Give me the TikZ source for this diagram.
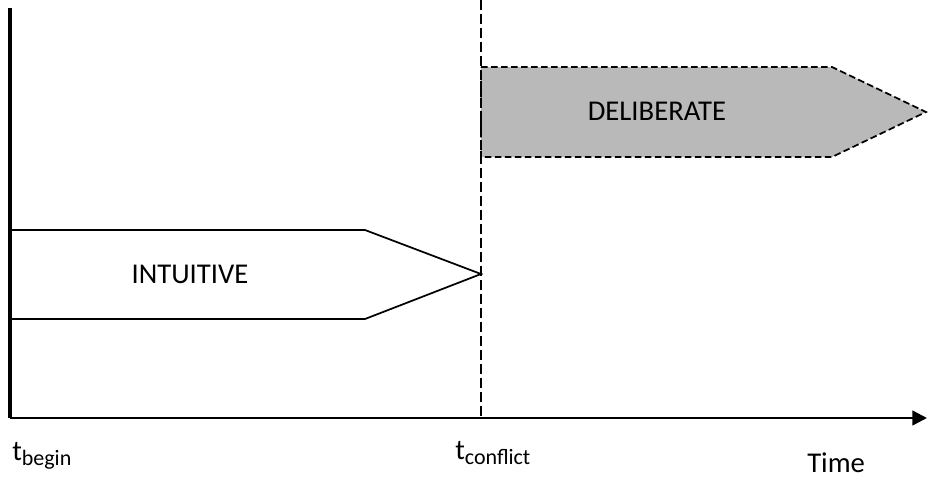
\documentclass[tikz,border=0pt]{standalone}
\usepackage{fontspec}
\setmainfont{Carlito}
\usetikzlibrary{arrows.meta}
\definecolor{delibgray}{RGB}{185,185,185}
\newcommand{\tsub}[1]{\raisebox{-3.8pt}{\fontsize{16.5}{18}\selectfont #1}}

\begin{document}
\begin{tikzpicture}[x=0.75pt,y=-0.75pt,
    lbl/.style={inner sep=0pt,font=\fontsize{21.5}{25}\selectfont},
    phase/.style={line width=1.3pt,line join=miter}]
            \useasboundingbox (0,0) rectangle (928,479);

            \coordinate (o) at (10,418);
            \coordinate (ytop) at (10,8);
            \coordinate (xend) at (927,418);
            \coordinate (ctop) at (481,0);
            \coordinate (cbot) at (481,418);

            \coordinate (i1) at (10,230);
            \coordinate (i2) at (365,230);
            \coordinate (i3) at (481,274);
            \coordinate (i4) at (365,319);
            \coordinate (i5) at (10,319);

            \coordinate (d1) at (481,67);
            \coordinate (d2) at (832,67);
            \coordinate (d3) at (926,112);
            \coordinate (d4) at (832,157);
            \coordinate (d5) at (481,157);

            % phases
            \draw[phase,fill=delibgray,dash pattern=on 5pt off 2.5pt] (d1) -- (d2) -- (d3) -- (d4) -- (d5) -- cycle;
            \draw[phase] (i1) -- (i2) -- (i3) -- (i4) -- (i5);

            % axes
            \draw[line width=1pt,dash pattern=on 7.5pt off 3pt] (ctop) -- (cbot);
            \draw[line width=3.5pt] (ytop) -- (o);
            \draw[line width=1.8pt,-{Triangle[length=11pt,width=11pt]}] (o) -- (xend);

            \node (intuitive) at (190,274) [lbl] {INTUITIVE};
            \node (deliberate) at (657,111) [lbl] {DELIBERATE};
            \node (tbegin) at (12,460) [lbl,anchor=base west] {t\tsub{begin}};
            \node (tconflict) at (455,459) [lbl,anchor=base west] {t\tsub{conflict}};
            \node (time) at (807,472) [lbl,anchor=base west] {Time};
\end{tikzpicture}
\end{document}
